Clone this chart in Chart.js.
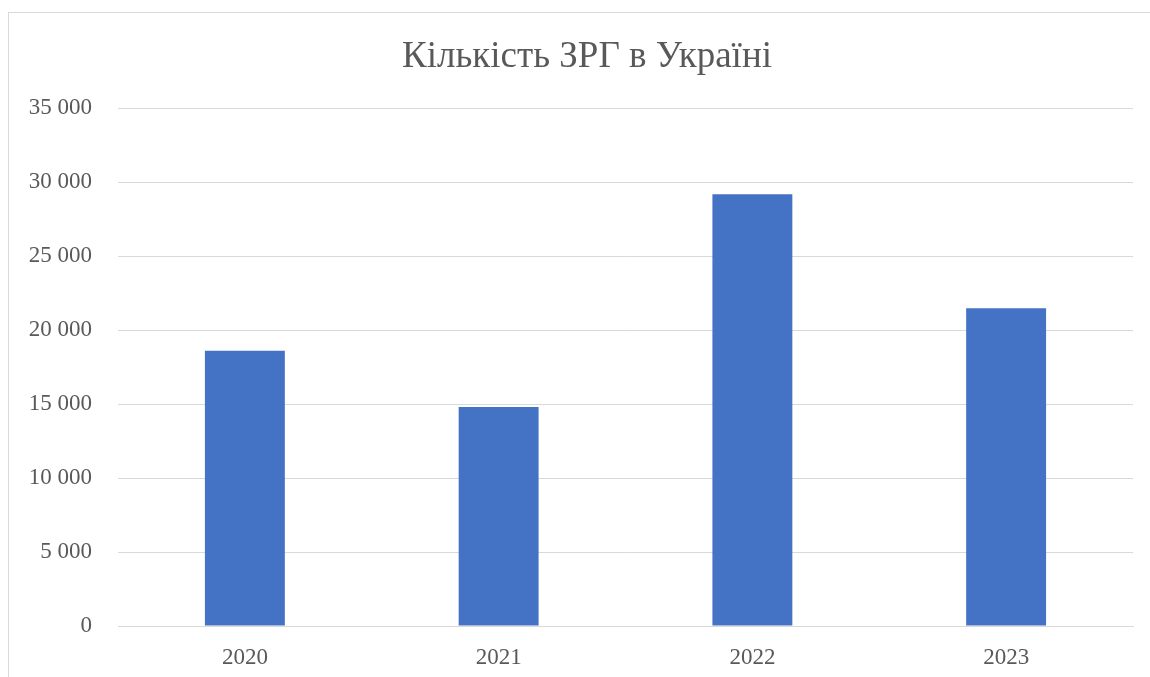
<!DOCTYPE html>
<html>
<head>
<meta charset="utf-8">
<script src="https://cdn.jsdelivr.net/npm/chart.js@4.4.0/dist/chart.umd.min.js"></script>
<style>
  html, body { margin: 0; padding: 0; background: #ffffff; }
  #wrap { position: relative; width: 1150px; height: 677px; overflow: hidden; }
  #frame {
    position: absolute; left: 8px; top: 12px; width: 1160px; height: 700px;
    border: 1px solid #d9d9d9; box-sizing: border-box;
  }
  canvas { position: absolute; left: 0; top: 0; }
</style>
</head>
<body>
<div id="wrap">
  <div id="frame"></div>
  <canvas id="chart" width="1150" height="677"></canvas>
</div>
<script>
// Data
const years = ['2020', '2021', '2022', '2023'];
const counts = [18600, 14800, 29170, 21470];
const yTicks = [0, 5000, 10000, 15000, 20000, 25000, 30000, 35000];
const titleText = 'Кількість ЗРГ в Україні';

const textColor = '#595959';
const gridColor = '#d9d9d9';
const barColor = '#4472c4';
const serif = "'Liberation Serif', 'Times New Roman', serif";

// "35000" -> "35 000"
function formatThousands(v) {
  return String(v).replace(/\B(?=(\d{3})+(?!\d))/g, ' ');
}

// Title is centred on the whole chart frame, not the plot area,
// so it is drawn here instead of by the title plugin
const frameTitle = {
  id: 'frameTitle',
  afterDraw(chart) {
    const c = chart.ctx;
    c.save();
    c.fillStyle = textColor;
    c.font = `37px ${serif}`;
    c.textAlign = 'center';
    c.textBaseline = 'middle';
    c.fillText(titleText, chart.width / 2 + 12, 57);
    c.restore();
  }
};

const ctx = document.getElementById('chart');

new Chart(ctx, {
  type: 'bar',
  data: {
    labels: years,
    datasets: [{
      label: 'Кількість ЗРГ',
      data: counts,
      backgroundColor: barColor,
      borderWidth: 0,
      categoryPercentage: 1,
      barPercentage: 0.315
    }]
  },
  plugins: [frameTitle],
  options: {
    responsive: false,
    animation: false,
    layout: {
      padding: { left: 0, right: 17, top: 108, bottom: 0 }
    },
    plugins: {
      legend: { display: false },
      tooltip: { enabled: false },
      title: { display: false }
    },
    scales: {
      x: {
        grid: { display: false, drawTicks: false },
        border: { display: true, color: gridColor, width: 1 },
        ticks: {
          color: textColor,
          font: { family: serif, size: 23 },
          padding: 18
        },
        afterFit: (scale) => { scale.height = 51; }
      },
      y: {
        min: 0,
        max: 35000,
        afterBuildTicks: (scale) => {
          scale.ticks = yTicks.map(v => ({ value: v }));
        },
        grid: { color: gridColor, lineWidth: 1, drawTicks: false },
        border: { display: false },
        ticks: {
          color: textColor,
          font: { family: serif, size: 23 },
          padding: 26,
          callback: (value) => formatThousands(value)
        },
        afterFit: (scale) => { scale.width = 118; }
      }
    }
  }
});
</script>
</body>
</html>
